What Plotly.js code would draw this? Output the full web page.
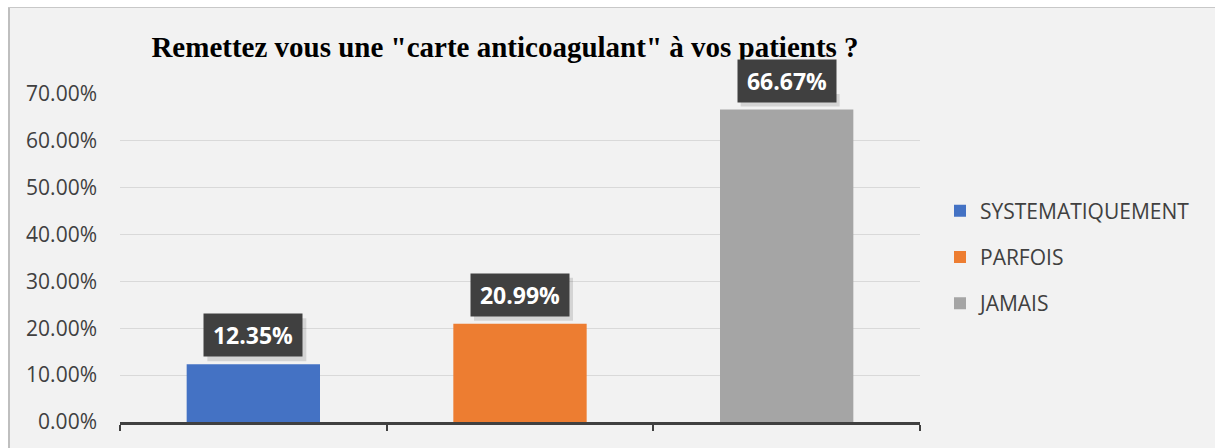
<!DOCTYPE html>
<html>
<head>
<meta charset="utf-8">
<script src="https://cdn.plot.ly/plotly-3.0.1.min.js"></script>
<style>
html,body{margin:0;padding:0;background:#fff;}
#chart{width:1215px;height:448px;}
</style>
</head>
<body>
<div id="chart"></div>
<script>
const categories = ["SYSTEMATIQUEMENT", "PARFOIS", "JAMAIS"];
const values = [0.1235, 0.2099, 0.6667];
const labels = ["12.35%", "20.99%", "66.67%"];
const colors = ["#4472c4", "#ed7d31", "#a5a5a5"];
const titleText = 'Remettez vous une "carte anticoagulant" à vos patients ?';

const W = 1215, H = 448;
const px = v => v / W;
const py = v => (H - v) / H;

const traces = categories.map((c, i) => ({
  type: "bar",
  name: c,
  x: [c],
  y: [values[i]],
  width: 0.5,
  marker: {color: colors[i]},
  legendgroup: "g" + i,
  hoverinfo: "skip"
}));

const annotations = [];
const labelShadows = [];
categories.forEach((c, i) => {
  // soft shadow behind each label box
  labelShadows.push({
    type: "rect", xref: "x", yref: "y",
    xsizemode: "pixel", ysizemode: "pixel",
    xanchor: i, yanchor: values[i],
    x0: -46, x1: 53, y0: 3, y1: 46,
    fillcolor: "rgba(0,0,0,0.12)", line: {width: 0}, layer: "above"
  });
  annotations.push({
    x: c, y: values[i], xref: "x", yref: "y",
    text: "<b>" + labels[i] + "</b>", showarrow: false, yanchor: "bottom",
    yshift: 7,
    bgcolor: "#404040",
    font: {family: "Open Sans", size: 23, color: "#ffffff"},
    borderpad: 6, width: 86, height: 30
  });
});

const layout = {
  width: W, height: H,
  margin: {l: 0, r: 0, t: 0, b: 0},
  paper_bgcolor: "#ffffff",
  plot_bgcolor: "rgba(0,0,0,0)",
  barmode: "overlay",
  title: {
    text: "<b>" + titleText + "</b>",
    x: px(505), y: py(47), xref: "paper", yref: "paper",
    xanchor: "center", yanchor: "middle",
    font: {family: "Liberation Serif", size: 29, color: "#000000"}
  },
  xaxis: {
    domain: [px(120), px(920)],
    type: "category",
    showticklabels: false,
    tickson: "boundaries",
    ticks: "outside", ticklen: 6, tickwidth: 2, tickcolor: "#404040",
    showline: true, linecolor: "#404040", linewidth: 3,
    showgrid: false, zeroline: false, fixedrange: true
  },
  yaxis: {
    domain: [py(422), py(94)],
    range: [0, 0.70],
    dtick: 0.1,
    tickformat: ".2%",
    ticklabelstandoff: 22,
    tickfont: {family: "Open Sans", size: 21, color: "#404040"},
    showgrid: true, gridcolor: "#d9d9d9", gridwidth: 1,
    zeroline: false, showline: false, ticks: "",
    automargin: false, fixedrange: true
  },
  showlegend: true,
  legend: {
    x: px(940), y: py(257), xanchor: "left", yanchor: "middle",
    yref: "paper",
    traceorder: "grouped", tracegroupgap: 16,
    font: {family: "Open Sans", size: 21, color: "#404040"},
    bgcolor: "rgba(0,0,0,0)"
  },
  annotations: annotations,
  shapes: [
    {type: "rect", xref: "paper", yref: "paper", x0: px(8), x1: 1, y0: 0, y1: py(7),
     fillcolor: "#f2f2f2", line: {width: 0}, layer: "below"},
    {type: "line", xref: "paper", yref: "paper", x0: px(9), x1: px(9), y0: 0, y1: py(7),
     line: {color: "#bfbfbf", width: 2}, layer: "below"},
    {type: "line", xref: "paper", yref: "paper", x0: px(8), x1: 1, y0: py(7.5), y1: py(7.5),
     line: {color: "#c8c8c8", width: 1}, layer: "below"}
  ].concat(labelShadows)
};

Plotly.newPlot("chart", traces, layout, {displayModeBar: false, staticPlot: true});
</script>
</body>
</html>
